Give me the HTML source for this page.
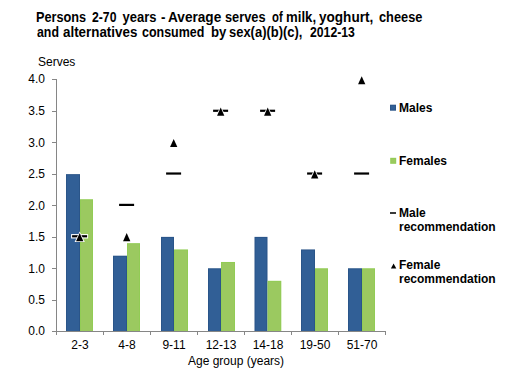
<!DOCTYPE html>
<html><head><meta charset="utf-8">
<style>
html,body{margin:0;padding:0;background:#fff;width:509px;height:376px;overflow:hidden;}
body{position:relative;font-family:"Liberation Sans",sans-serif;color:#000;}
.t{position:absolute;white-space:nowrap;line-height:1;}
.w{position:absolute;white-space:nowrap;line-height:1;font-weight:bold;font-size:13px;}
.yl{position:absolute;white-space:nowrap;line-height:1;font-size:12px;text-align:right;width:30px;left:15px;}
.xl{position:absolute;white-space:nowrap;line-height:1;font-size:12px;text-align:center;width:46px;}
.lg{position:absolute;white-space:nowrap;font-weight:bold;font-size:12px;left:399px;line-height:14px;}
svg{position:absolute;left:0;top:0;}
</style></head>
<body>

<div class="w" style="left:35.52px;top:11px;transform:scale(0.978,1.07);transform-origin:0 12px;">Persons</div>
<div class="w" style="left:91.80px;top:11px;transform:scale(0.940,1.07);transform-origin:0 12px;">2-70</div>
<div class="w" style="left:122.50px;top:11px;transform:scale(1.000,1.07);transform-origin:0 12px;">years</div>
<div class="w" style="left:160.90px;top:11px;transform:scale(1.025,1.07);transform-origin:0 12px;">-</div>
<div class="w" style="left:168.30px;top:11px;transform:scale(1.048,1.07);transform-origin:0 12px;">Average</div>
<div class="w" style="left:224.91px;top:11px;transform:scale(0.985,1.07);transform-origin:0 12px;">serves</div>
<div class="w" style="left:272.00px;top:11px;transform:scale(0.869,1.07);transform-origin:0 12px;">of</div>
<div class="w" style="left:285.59px;top:11px;transform:scale(1.014,1.07);transform-origin:0 12px;">milk,</div>
<div class="w" style="left:319.20px;top:11px;transform:scale(1.043,1.07);transform-origin:0 12px;">yoghurt,</div>
<div class="w" style="left:378.60px;top:11px;transform:scale(0.984,1.07);transform-origin:0 12px;">cheese</div>
<div class="w" style="left:36.50px;top:26.2px;transform:scale(0.948,1.07);transform-origin:0 12px;">and</div>
<div class="w" style="left:63.20px;top:26.2px;transform:scale(1.029,1.07);transform-origin:0 12px;">alternatives</div>
<div class="w" style="left:142.40px;top:26.2px;transform:scale(0.959,1.07);transform-origin:0 12px;">consumed</div>
<div class="w" style="left:210.79px;top:26.2px;transform:scale(1.014,1.07);transform-origin:0 12px;">by</div>
<div class="w" style="left:229.10px;top:26.2px;transform:scale(0.997,1.07);transform-origin:0 12px;">sex(a)(b)(c),</div>
<div class="w" style="left:310.30px;top:26.2px;transform:scale(0.940,1.07);transform-origin:0 12px;">2012-13</div>
<div class="t" style="font-size:12px;left:38px;top:56px;">Serves</div>
<div class="yl" style="top:73px;">4.0</div>
<div class="yl" style="top:105px;">3.5</div>
<div class="yl" style="top:137px;">3.0</div>
<div class="yl" style="top:168px;">2.5</div>
<div class="yl" style="top:200px;">2.0</div>
<div class="yl" style="top:231px;">1.5</div>
<div class="yl" style="top:263px;">1.0</div>
<div class="yl" style="top:294px;">0.5</div>
<div class="yl" style="top:325px;">0.0</div>
<div class="xl" style="left:57.0px;top:339px;">2-3</div>
<div class="xl" style="left:104.0px;top:339px;">4-8</div>
<div class="xl" style="left:151.0px;top:339px;">9-11</div>
<div class="xl" style="left:198.0px;top:339px;">12-13</div>
<div class="xl" style="left:245.0px;top:339px;">14-18</div>
<div class="xl" style="left:292.0px;top:339px;">19-50</div>
<div class="xl" style="left:339.0px;top:339px;">51-70</div>
<div class="t" style="font-size:12px;left:188px;top:355px;">Age group (years)</div>
<svg width="509" height="376" viewBox="0 0 509 376">
<path d="M56.5 79 V332 M52 79.5 H56.5 M52 111.5 H56.5 M52 142.5 H56.5 M52 174.5 H56.5 M52 205.5 H56.5 M52 237.5 H56.5 M52 268.5 H56.5 M52 300.5 H56.5 M52 331.5 H56.5 M52 331.5 H386 M56.5 331.5 V335 M103.5 331.5 V335 M150.5 331.5 V335 M197.5 331.5 V335 M244.5 331.5 V335 M291.5 331.5 V335 M338.5 331.5 V335 M385.5 331.5 V335 " fill="none" stroke="#868686" stroke-width="1"/>
<rect x="66" y="174.12" width="14" height="156.88" fill="#2A5589"/>
<rect x="67" y="175.12" width="12" height="155.88" fill="#315F96"/>
<rect x="80" y="199.22" width="13" height="131.78" fill="#92CC55"/>
<rect x="81" y="200.22" width="11" height="130.78" fill="#9BC960"/>
<rect x="113" y="255.70" width="14" height="75.30" fill="#2A5589"/>
<rect x="114" y="256.70" width="12" height="74.30" fill="#315F96"/>
<rect x="127" y="243.15" width="13" height="87.85" fill="#92CC55"/>
<rect x="128" y="244.15" width="11" height="86.85" fill="#9BC960"/>
<rect x="161" y="236.88" width="13" height="94.12" fill="#2A5589"/>
<rect x="162" y="237.88" width="11" height="93.12" fill="#315F96"/>
<rect x="174" y="249.43" width="14" height="81.57" fill="#92CC55"/>
<rect x="175" y="250.43" width="12" height="80.57" fill="#9BC960"/>
<rect x="208" y="268.25" width="13" height="62.75" fill="#2A5589"/>
<rect x="209" y="269.25" width="11" height="61.75" fill="#315F96"/>
<rect x="221" y="261.98" width="14" height="69.02" fill="#92CC55"/>
<rect x="222" y="262.98" width="12" height="68.02" fill="#9BC960"/>
<rect x="254.5" y="236.88" width="13.0" height="94.12" fill="#2A5589"/>
<rect x="255.5" y="237.88" width="11.0" height="93.12" fill="#315F96"/>
<rect x="267.5" y="280.80" width="13.800000000000011" height="50.20" fill="#92CC55"/>
<rect x="268.5" y="281.80" width="11.800000000000011" height="49.20" fill="#9BC960"/>
<rect x="301" y="249.43" width="14" height="81.57" fill="#2A5589"/>
<rect x="302" y="250.43" width="12" height="80.57" fill="#315F96"/>
<rect x="315" y="268.25" width="13" height="62.75" fill="#92CC55"/>
<rect x="316" y="269.25" width="11" height="61.75" fill="#9BC960"/>
<rect x="348" y="268.25" width="14" height="62.75" fill="#2A5589"/>
<rect x="349" y="269.25" width="12" height="61.75" fill="#315F96"/>
<rect x="362" y="268.25" width="13" height="62.75" fill="#92CC55"/>
<rect x="363" y="269.25" width="11" height="61.75" fill="#9BC960"/>
<rect x="71.10" y="234.08" width="17" height="4.4" fill="#fff"/>
<rect x="72.10" y="235.18" width="15" height="2.2" fill="#000"/>
<rect x="118.10" y="202.70" width="17" height="4.4" fill="#fff"/>
<rect x="119.10" y="203.80" width="15" height="2.2" fill="#000"/>
<rect x="165.10" y="171.33" width="17" height="4.4" fill="#fff"/>
<rect x="166.10" y="172.43" width="15" height="2.2" fill="#000"/>
<rect x="212.10" y="108.58" width="17" height="4.4" fill="#fff"/>
<rect x="213.10" y="109.68" width="15" height="2.2" fill="#000"/>
<rect x="259.10" y="108.58" width="17" height="4.4" fill="#fff"/>
<rect x="260.10" y="109.68" width="15" height="2.2" fill="#000"/>
<rect x="306.10" y="171.33" width="17" height="4.4" fill="#fff"/>
<rect x="307.10" y="172.43" width="15" height="2.2" fill="#000"/>
<rect x="353.10" y="171.33" width="17" height="4.4" fill="#fff"/>
<rect x="354.10" y="172.43" width="15" height="2.2" fill="#000"/>
<path d="M79.70 231.38 L84.80 242.08 L74.60 242.08 Z" fill="#fff"/>
<path d="M79.70 233.08 L83.35 241.18 L76.05 241.18 Z" fill="#000"/>
<path d="M126.70 231.38 L131.80 242.08 L121.60 242.08 Z" fill="#fff"/>
<path d="M126.70 233.08 L130.35 241.18 L123.05 241.18 Z" fill="#000"/>
<path d="M173.70 137.25 L178.80 147.95 L168.60 147.95 Z" fill="#fff"/>
<path d="M173.70 138.95 L177.35 147.05 L170.05 147.05 Z" fill="#000"/>
<path d="M220.70 105.88 L225.80 116.58 L215.60 116.58 Z" fill="#fff"/>
<path d="M220.70 107.58 L224.35 115.68 L217.05 115.68 Z" fill="#000"/>
<path d="M267.70 105.88 L272.80 116.58 L262.60 116.58 Z" fill="#fff"/>
<path d="M267.70 107.58 L271.35 115.68 L264.05 115.68 Z" fill="#000"/>
<path d="M314.70 168.62 L319.80 179.33 L309.60 179.33 Z" fill="#fff"/>
<path d="M314.70 170.33 L318.35 178.43 L311.05 178.43 Z" fill="#000"/>
<path d="M361.70 74.50 L366.80 85.20 L356.60 85.20 Z" fill="#fff"/>
<path d="M361.70 76.20 L365.35 84.30 L358.05 84.30 Z" fill="#000"/>
<rect x="390" y="104.7" width="6" height="6" fill="#2A5589"/><rect x="391" y="105.7" width="4" height="4" fill="#315F96"/>
<rect x="390.2" y="157.8" width="6" height="6" fill="#92CC55"/><rect x="391.2" y="158.8" width="4" height="4" fill="#9BC960"/>
<rect x="390" y="212" width="6" height="2" fill="#3a3a3a"/>
<path d="M393.6 263.4 L396.3 268.4 L390.9 268.4 Z" fill="#000"/>
</svg>
<div class="lg" style="top:100.5px;">Males</div>
<div class="lg" style="top:153.5px;">Females</div>
<div class="lg" style="top:205.8px;">Male<br>recommendation</div>
<div class="lg" style="top:257.5px;">Female<br>recommendation</div>
</body></html>
